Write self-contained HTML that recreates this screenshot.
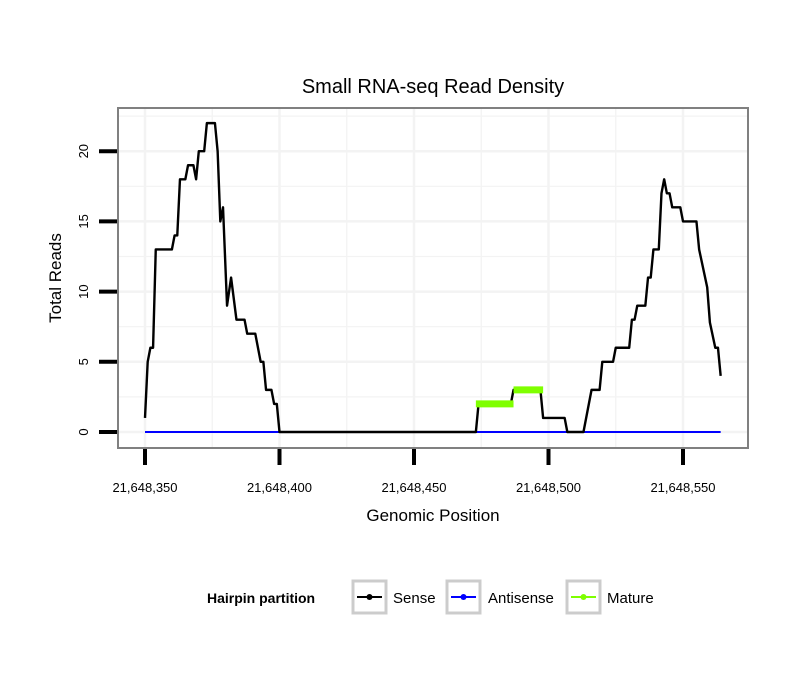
<!DOCTYPE html>
<html><head><meta charset="utf-8"><style>
body{margin:0;background:#fff;}
svg{display:block;font-family:"Liberation Sans",sans-serif;}
</style></head><body>
<svg id="chart" width="810" height="690" viewBox="0 0 810 690" xmlns="http://www.w3.org/2000/svg">
<text x="433" y="93" font-size="20" text-anchor="middle">Small RNA-seq Read Density</text>
<g id="grid"></g>
<g id="series"></g>
<rect x="118" y="108" width="630" height="340" fill="none" stroke="#808080" stroke-width="2"/>
<g id="axes"></g>
<text x="433" y="521" font-size="17" text-anchor="middle">Genomic Position</text>
<text transform="translate(61,278) rotate(-90)" font-size="17" text-anchor="middle">Total Reads</text>
<g>
<text x="207" y="603" font-size="14" font-weight="bold">Hairpin partition</text>
<g>
<rect x="353" y="581" width="33" height="32" fill="#fff" stroke="#ccc" stroke-width="3"/>
<line x1="357" y1="597" x2="382" y2="597" stroke="#000" stroke-width="2"/><circle cx="369.5" cy="597" r="3" fill="#000"/>
<text x="393" y="603" font-size="15">Sense</text></g>
<g>
<rect x="447" y="581" width="33" height="32" fill="#fff" stroke="#ccc" stroke-width="3"/>
<line x1="451" y1="597" x2="476" y2="597" stroke="#00f" stroke-width="2"/><circle cx="463.5" cy="597" r="3" fill="#00f"/>
<text x="488" y="603" font-size="15">Antisense</text></g>
<g>
<rect x="567" y="581" width="33" height="32" fill="#fff" stroke="#ccc" stroke-width="3"/>
<line x1="571" y1="597" x2="596" y2="597" stroke="#7fff00" stroke-width="2"/><circle cx="583.5" cy="597" r="3" fill="#7fff00"/>
<text x="607" y="603" font-size="15">Mature</text></g>
</g>
</svg>
<script>
const xTicks=[350,400,450,500,550];
const xTickLabels=["21,648,350","21,648,400","21,648,450","21,648,500","21,648,550"];
const yTicks=[0,5,10,15,20];
const sensePos=[350,351,352,353,354,360,361,362,363,365,366,368,369,370,372,373,376,377,378,379,380.5,382,384,387,388,391,393,394,395,397,398,399,400,473,474,486,487,497,498,506,507,513,516,519,520,524,525,530,531,532,533,536,537,538,539,541,542,543,544,545,546,549,550,555,556,559,560,562,563,564];
const senseVal=[1,5,6,6,13,13,14,14,18,18,19,19,18,20,20,22,22,20,15,16,9,11,8,8,7,7,5,5,3,3,2,2,0,0,2,2,3,3,1,1,0,0,3,3,5,5,6,6,8,8,9,9,11,11,13,13,17,18,17,17,16,16,15,15,13,10.3,7.8,6,6,4];
const antisensePos=[350,564];
const antisenseVal=[0,0];
const matureStart=[473,487];
const matureEnd=[487,498];
const matureVal=[2,3];
const xs=p=>145+(p-350)*2.69;
const ys=v=>432-v*14.04;
const NS="http://www.w3.org/2000/svg";
const grid=document.getElementById('grid'),axes=document.getElementById('axes'),ser=document.getElementById('series');
function mk(t,a,parent){const e=document.createElementNS(NS,t);for(const k in a)e.setAttribute(k,a[k]);parent.appendChild(e);return e;}
const xg=[325,350,375,400,425,450,475,500,525,550,575];
xg.forEach(p=>{const x=xs(p);if(x>119&&x<747){const l=mk('line',{x1:x,x2:x,y1:109,y2:447,stroke:'#f3f3f3','stroke-width':p%50===0?2.5:1.2},grid);

}});
[-2.5,0,2.5,5,7.5,10,12.5,15,17.5,20,22.5].forEach(v=>{const y=ys(v);if(y>109&&y<447){const l=mk('line',{x1:119,x2:747,y1:y,y2:y,stroke:'#f3f3f3','stroke-width':v%5===0?2.5:1.2},grid);

}});
xTicks.forEach((p,i)=>{const x=xs(p);
const t=mk('line',{x1:x,x2:x,y1:449,y2:465,stroke:'#000','stroke-width':4},axes);


const tx=mk('text',{x:x,y:492,'font-size':13,'text-anchor':'middle'},axes);tx.textContent=xTickLabels[i];

});
yTicks.forEach(v=>{const y=ys(v);
const t=mk('line',{x1:99,x2:117,y1:y,y2:y,stroke:'#000','stroke-width':4},axes);


const tx=mk('text',{transform:`translate(88,${y}) rotate(-90)`,'font-size':13,'text-anchor':'middle'},axes);tx.textContent=v;

});
const ap=mk('polyline',{points:antisensePos.map((p,i)=>xs(p)+','+ys(antisenseVal[i])).join(' '),fill:'none',stroke:'#00f','stroke-width':2},ser);


const sp=mk('polyline',{points:sensePos.map((p,i)=>xs(p)+','+ys(senseVal[i])).join(' '),fill:'none',stroke:'#000','stroke-width':2.4,'stroke-linejoin':'round'},ser);


matureStart.forEach((s,i)=>{const l=mk('line',{x1:xs(s),x2:xs(matureEnd[i]),y1:ys(matureVal[i]),y2:ys(matureVal[i]),stroke:'#7fff00','stroke-width':7},ser);

});
</script>
</body></html>
